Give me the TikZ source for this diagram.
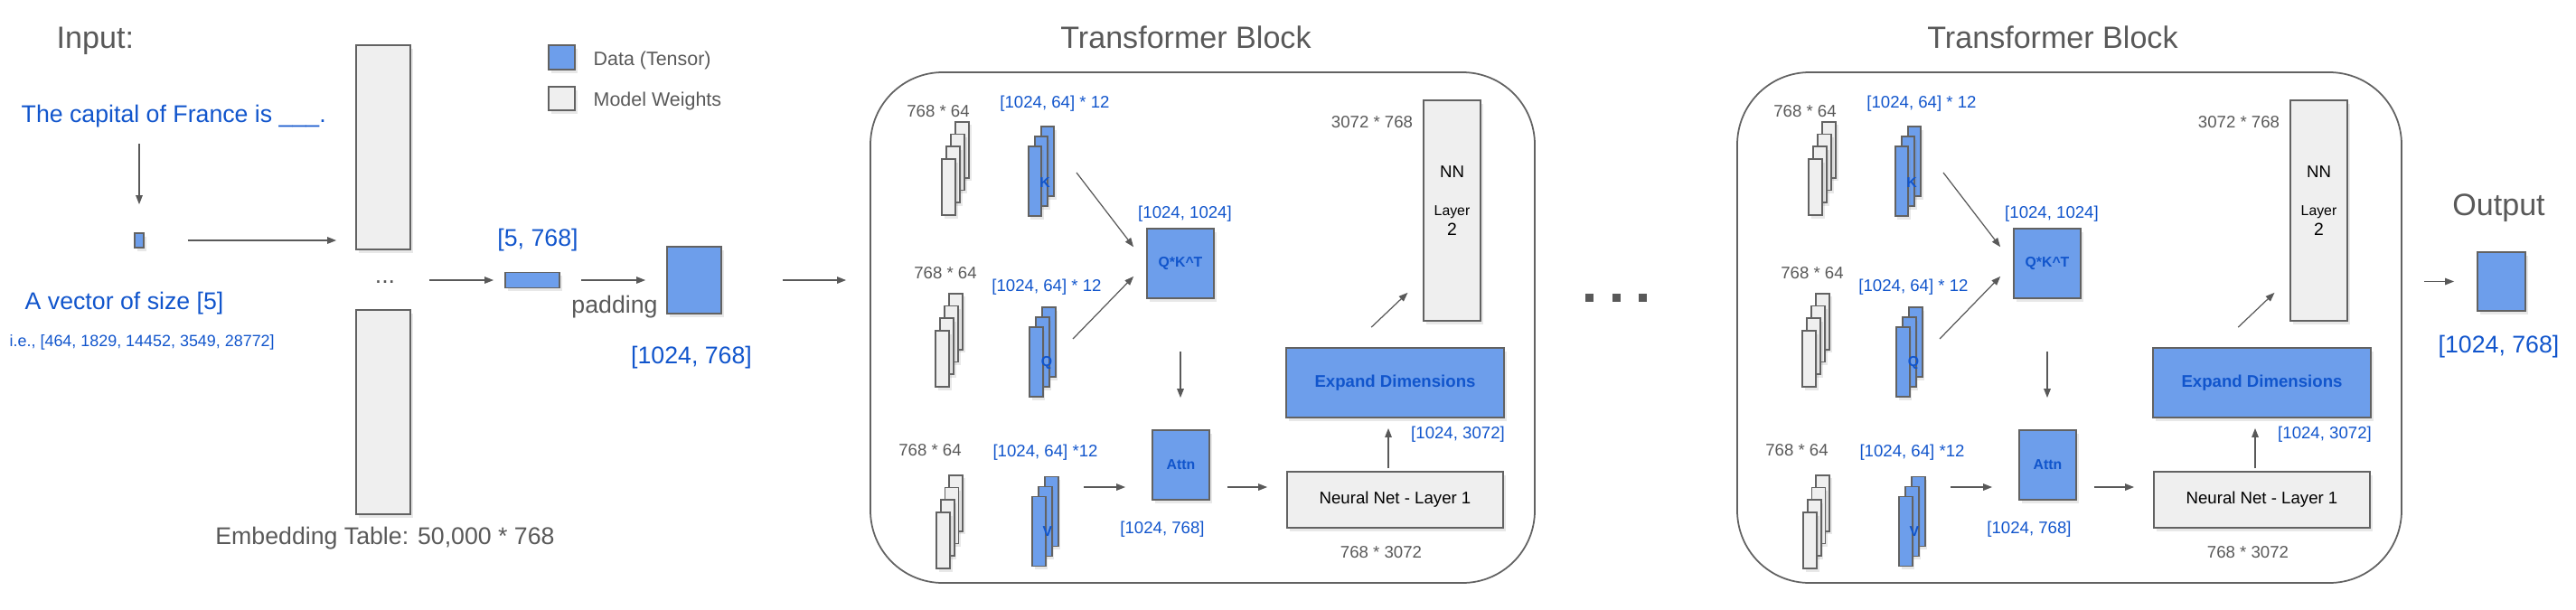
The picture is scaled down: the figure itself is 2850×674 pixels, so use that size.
\documentclass[tikz,border=0pt]{standalone}
\usepackage{fontspec}
\setmainfont{Liberation Sans}
\usetikzlibrary{arrows.meta,shadows}
\definecolor{datablue}{HTML}{6D9EEB}
\definecolor{weightgray}{HTML}{EFEFEF}
\definecolor{edgegray}{HTML}{626262}
\definecolor{textblue}{HTML}{1155CC}
\definecolor{textgray}{HTML}{595959}
\tikzset{
  box/.style={draw=edgegray, line width=0.5pt, inner sep=0pt, drop shadow={opacity=0.18, shadow xshift=0.25mm, shadow yshift=-0.35mm}},
  data/.style={box, fill=datablue},
  weight/.style={box, fill=weightgray},
  arr/.style={draw=textgray, line width=0.35pt, -{Triangle[length=1mm,width=0.75mm]}},
  head/.style={text=textgray, font=\fontsize{9.7}{11}\selectfont, inner sep=0pt},
  bigb/.style={text=textblue, font=\fontsize{7.6}{9}\selectfont, inner sep=0pt},
  bigg/.style={text=textgray, font=\fontsize{7.6}{9}\selectfont, inner sep=0pt},
  smallb/.style={text=textblue, font=\fontsize{5.3}{6.4}\selectfont, inner sep=0pt},
  smallg/.style={text=textgray, font=\fontsize{5.3}{6.4}\selectfont, inner sep=0pt},
  smallk/.style={text=black, font=\fontsize{5.3}{6.4}\selectfont, inner sep=0pt},
  legtext/.style={text=textgray, font=\fontsize{6.1}{7.2}\selectfont, inner sep=0pt},
  boldlbl/.style={text=textblue, font=\bfseries\fontsize{4.5}{5.4}\selectfont},
}
\begin{document}
\begin{tikzpicture}[x=0.1mm, y=-0.1mm]
\useasboundingbox (0,0) rectangle (2850,674);

\node[head, anchor=base west] (inp) at (62,53) {Input:};
\node[bigb, anchor=base west] (sent) at (23,135) {The capital of France is \_\_\_.};
\node[data, minimum width=1mm, minimum height=1.6mm] (vec) at (154,266) {};
\node[bigb, anchor=base west] (vsz) at (27,342) {A vector of size [5]};
\node[text=textblue, font=\fontsize{5.1}{6}\selectfont, inner sep=0pt, anchor=base west] (ids) at (10,383) {i.e., [464, 1829, 14452, 3549, 28772]};
\draw[arr, shorten <=1.8mm, shorten >=3.1mm] (sent.south -| vec) -- (vec.north);

\node[weight, minimum width=6mm, minimum height=22.6mm] (emb1) at (424,163) {};
\node[weight, minimum width=6mm, minimum height=22.6mm] (emb2) at (424,456) {};
\node[bigg] (edots) at (426,312) {...};
\node[bigg, anchor=base] (etab) at (426,602) {Embedding Table: 50,000 * 768};
\draw[arr, shorten <=4.8mm, shorten >=2.1mm] (vec.east) -- (vec.east -| emb1.west);

\node[data, minimum width=2.9mm, minimum height=2.7mm] (legd) at (621.5,63.5) {};
\node[weight, minimum width=2.9mm, minimum height=2.6mm] (legw) at (621.5,109) {};
\node[legtext, anchor=base west] (legdt) at (656,72) {Data (Tensor)};
\node[legtext, anchor=base west] (legwt) at (656,117) {Model Weights};

\node[data, minimum width=6mm, minimum height=1.7mm] (tok) at (589,310) {};
\node[bigb, anchor=base] (toksz) at (595,272) {[5, 768]};
\draw[arr, shorten <=3.7mm, shorten >=1.2mm] (edots.east |- tok) -- (tok.west);

\node[data, minimum width=6mm, minimum height=7.4mm] (pad) at (768,310) {};
\node[bigg, anchor=base] (padlbl) at (680,346) {padding};
\node[bigb, anchor=base] (padsz) at (765,402) {[1024, 768]};
\draw[arr, shorten <=2.3mm, shorten >=2.3mm] (tok.east) -- (pad.west);

\foreach \b/\s in {1/0,2/95.9}{
\begin{scope}[xshift=\s mm]
\node[head, anchor=base] (title\b) at (1312,53) {Transformer Block};
\node[draw=edgegray, line width=0.5pt, rounded corners=8mm, minimum width=73.5mm, minimum height=56.5mm] (blk\b) at (1330.5,362.5) {};

\foreach \i in {3,2,1,0} \node[weight, minimum width=1.5mm, minimum height=6.2mm] (wk\b\i) at ({1049.5+5*\i},{207-13.7*\i}) {};
\foreach \i in {2,1,0} \node[data, minimum width=1.45mm, minimum height=7.7mm] (kb\b\i) at ({1145+7*\i},{200.5-11*\i}) {};
\node[boldlbl] (kl\b) at (1156,202) {K};
\node[smallg, anchor=base] at (1038,129) {768 * 64};
\node[smallb, anchor=base] at (1167,119) {[1024, 64] * 12};

\foreach \i in {3,2,1,0} \node[weight, minimum width=1.5mm, minimum height=6.2mm] (wq\b\i) at ({1042.5+5*\i},{397-13.7*\i}) {};
\foreach \i in {2,1,0} \node[data, minimum width=1.45mm, minimum height=7.7mm] (qb\b\i) at ({1146.5+7*\i},{400.5-11*\i}) {};
\node[boldlbl] (ql\b) at (1158,402) {Q};
\node[smallg, anchor=base] at (1046,308) {768 * 64};
\node[smallb, anchor=base] at (1158,322) {[1024, 64] * 12};

\foreach \i in {3,2,1,0} \node[weight, minimum width=1.5mm, minimum height=6.2mm] (wv\b\i) at ({1043.5+4.7*\i},{598-13.7*\i}) {};
\foreach \i in {2,1,0} \node[data, minimum width=1.45mm, minimum height=7.7mm] (vb\b\i) at ({1149.5+7*\i},{588-11*\i}) {};
\node[boldlbl] (vl\b) at (1159,588) {V};
\node[smallg, anchor=base] at (1029,504) {768 * 64};
\node[smallb, anchor=base] at (1156.5,505) {[1024, 64] *12};

\node[data, minimum width=7.4mm, minimum height=7.7mm, boldlbl] (qkt\b) at (1306,291.5) {Q*K\textasciicircum T};
\node[smallb, anchor=base] at (1311,241) {[1024, 1024]};
\coordinate (ka\b) at (1191,191);
\coordinate (qa\b) at (1187,375);
\draw[arr, shorten >=2.3mm] (ka\b) -- (qkt\b.west);
\draw[arr, shorten >=2mm] (qa\b) -- (qkt\b.west);

\node[data, minimum width=6.3mm, minimum height=7.7mm, boldlbl] (attn\b) at (1306.5,514.5) {Attn};
\node[smallb, anchor=base] at (1286,590) {[1024, 768]};
\draw[arr, shorten <=5.8mm, shorten >=3.5mm] (qkt\b.south) -- (qkt\b.south |- attn\b.north);
\coordinate (va\b) at (1199,539);
\draw[arr, shorten >=2.9mm] (va\b) -- (va\b -| attn\b.west);

\node[weight, minimum width=23.9mm, minimum height=6.2mm, smallk] (nna\b) at (1543.5,553) {Neural Net - Layer 1};
\node[smallg, anchor=base] at (1528,617) {768 * 3072};
\draw[arr, shorten <=1.9mm, shorten >=2.1mm] (va\b -| attn\b.east) -- (va\b -| nna\b.west);

\node[data, minimum width=24.1mm, minimum height=7.7mm, boldlbl, font=\bfseries\fontsize{5.3}{6.4}\selectfont] (exp\b) at (1543.5,423.5) {Expand Dimensions};
\node[smallb, anchor=base] at (1613,485) {[1024, 3072]};
\draw[arr, shorten <=0.3mm, shorten >=1.1mm] ([xshift=-0.75mm]nna\b.north) -- ([xshift=-0.75mm]exp\b.south);

\node[weight, minimum width=6.3mm, minimum height=24.4mm] (nnb\b) at (1606.5,233) {};
\node[smallk, anchor=base] (nnt\b) at ([yshift=-8.6mm]nnb\b.north) {NN};
\node[smallk, font=\fontsize{4.5}{5.4}\selectfont, anchor=base] (lyt\b) at ([yshift=-12.8mm]nnb\b.north) {Layer};
\node[smallk, font=\fontsize{5.5}{6.6}\selectfont, anchor=base] (twt\b) at ([yshift=-15mm]nnb\b.north) {2};
\node[smallg, anchor=base] at (1518,141) {3072 * 768};
\draw[arr, shorten <=3.2mm, shorten >=2.3mm] ([xshift=-4.95mm]exp\b.north) -- ([yshift=-7.5mm]nnb\b.west);
\end{scope}
}

\draw[arr, shorten <=6.7mm, shorten >=2.6mm] (pad.east) -- (pad.east -| blk1.west);

\foreach \x in {1758.5,1788.5,1817.5} \fill[textgray] ({\x-4.5},325) rectangle ({\x+4.5},334);

\node[head, anchor=base] (outlbl) at (2764.5,238) {Output};
\node[data, minimum width=5.3mm, minimum height=6.5mm] (out) at (2767.5,311.5) {};
\node[bigb, anchor=base] (outsz) at (2764.5,390) {[1024, 768]};
\draw[arr, shorten <=2.4mm, shorten >=2.5mm] (out.west -| blk2.east) -- (out.west);
\end{tikzpicture}
\end{document}
